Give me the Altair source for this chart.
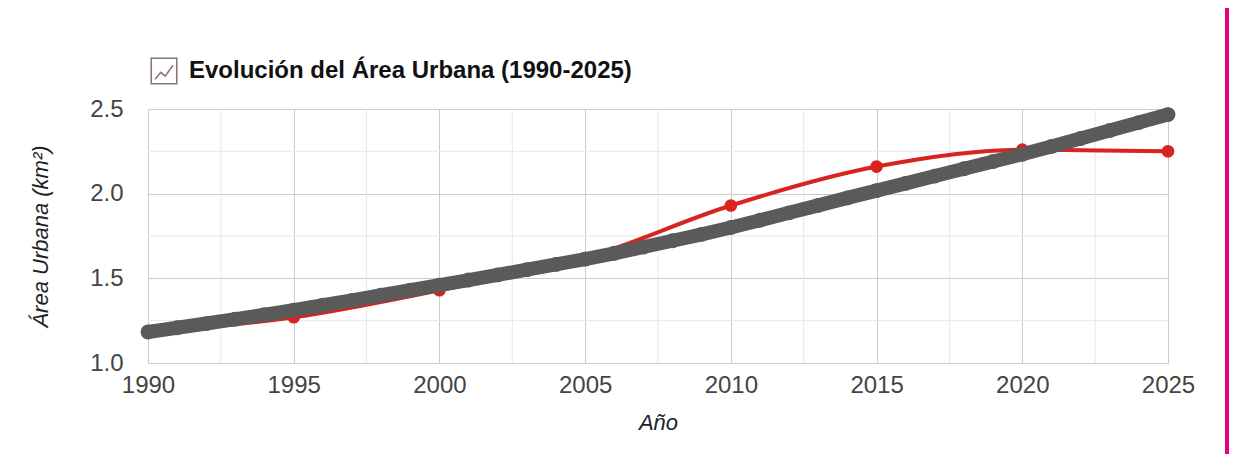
import altair as alt
import pandas as pd

# ---- data ----
years_obs = [1990, 1995, 2000, 2005, 2010, 2015, 2020, 2025]
area_obs = [1.18, 1.27, 1.43, 1.62, 1.93, 2.16, 2.26, 2.25]

years_trend = list(range(1990, 2026))
area_trend = [1.183, 1.208, 1.233, 1.259, 1.285, 1.312, 1.341, 1.370, 1.400, 1.430,
              1.460, 1.490, 1.520, 1.551, 1.582, 1.613, 1.648, 1.685, 1.722, 1.760,
              1.800, 1.843, 1.887, 1.931, 1.975, 2.018, 2.061, 2.104, 2.147, 2.190,
              2.233, 2.279, 2.326, 2.373, 2.420, 2.467]

x_ticks = [1990, 1995, 2000, 2005, 2010, 2015, 2020, 2025]
y_ticks = [1.0, 1.5, 2.0, 2.5]
x_minor = [1992.5, 1997.5, 2002.5, 2007.5, 2012.5, 2017.5, 2022.5]
y_minor = [1.25, 1.75, 2.25]

legend_label = "Evolución del Área Urbana (1990-2025)"
x_title = "Año"
y_title = "Área Urbana (km²)"

RED = "#d8231f"
GRAY = "#5a5a5a"
ICON = "#8f7474"
FONT = "Liberation Sans"
W, H = 1020, 254

obs = pd.DataFrame({"year": years_obs, "area": area_obs, "serie": legend_label})
trend = pd.DataFrame({"year": years_trend, "area": area_trend})
xm = pd.DataFrame({"year": x_minor})
ym = pd.DataFrame({"area": y_minor})

xscale = alt.Scale(domain=[1990, 2025], nice=False, zero=False)
yscale = alt.Scale(domain=[1.0, 2.5], nice=False, zero=False)

x_axis = alt.Axis(values=x_ticks, format="d", labelFont=FONT, labelFontSize=24,
                  labelColor="#444444", labelPadding=10, tickSize=0, domain=False,
                  grid=True, gridColor="#cccccc", labelFlush=False,
                  title=x_title, titleFont=FONT, titleFontSize=22,
                  titleFontStyle="italic", titleFontWeight="normal",
                  titleColor="#222222", titlePadding=15)
y_axis = alt.Axis(values=y_ticks, format=".1f", labelFont=FONT, labelFontSize=24,
                  labelColor="#444444", labelPadding=25, tickSize=0, domain=False,
                  grid=True, gridColor="#cccccc",
                  title=y_title, titleFont=FONT, titleFontSize=22,
                  titleFontStyle="italic", titleFontWeight="normal",
                  titleColor="#222222", titlePadding=37)


def X(field="year"):
    return alt.X(f"{field}:Q", scale=xscale, axis=x_axis)


def Y(field="area"):
    return alt.Y(f"{field}:Q", scale=yscale, axis=y_axis)


minor_v = alt.Chart(xm).mark_rule(color="#e8e8e8", strokeWidth=1).encode(
    x=X(), y=alt.value(0), y2=alt.value(H))
minor_h = alt.Chart(ym).mark_rule(color="#e8e8e8", strokeWidth=1).encode(
    y=Y(), x=alt.value(0), x2=alt.value(W))

icon = "M-1,-1H1V1H-1Z M-0.7,0.65L-0.25,0.1L0.1,0.4L0.7,-0.45"

red_line = alt.Chart(obs).mark_line(strokeWidth=4, interpolate="monotone", color=RED).encode(
    x=X(), y=Y())
red_pts = alt.Chart(obs).mark_circle(size=160, color=RED, opacity=1).encode(
    x=X(), y=Y())

# legend carrier (tiny point hidden under the trend band)
legend_layer = alt.Chart(obs).transform_filter(alt.datum.year == 2005).mark_point(
    filled=False, size=1).encode(
    x=X(), y=Y(),
    stroke=alt.Stroke("serie:N", scale=alt.Scale(domain=[legend_label], range=[ICON]),
                      legend=alt.Legend(orient="none", legendX=2, legendY=-52, title=None,
                                        padding=0, symbolType=icon, symbolSize=650,
                                        symbolStrokeWidth=1.6, symbolFillColor="#f6eded",
                                        symbolOpacity=1, labelFont=FONT,
                                        labelFontSize=24, labelFontWeight="bold",
                                        labelColor="#111111", labelOffset=11,
                                        labelLimit=700)))

gray_line = alt.Chart(trend).mark_line(strokeWidth=14, color=GRAY, strokeCap="round").encode(
    x=X(), y=Y())
gray_pts = alt.Chart(trend).mark_circle(size=220, color=GRAY, opacity=1).encode(
    x=X(), y=Y())

border = alt.Chart(obs).mark_rule(color="#e6007e", strokeWidth=3).encode(
    x=alt.value(1079), y=alt.value(-101), y2=alt.value(350))

chart = alt.layer(minor_v, minor_h, red_line, red_pts, legend_layer, gray_line, gray_pts,
                  border).properties(
    width=W, height=H,
    autosize=alt.AutoSizeParams(type="none"),
    padding={"left": 140, "top": 101, "right": 61, "bottom": 91},
).configure_view(stroke=None).configure(background="white")

chart.save("out.html", embed_options={"renderer": "svg", "actions": False})
